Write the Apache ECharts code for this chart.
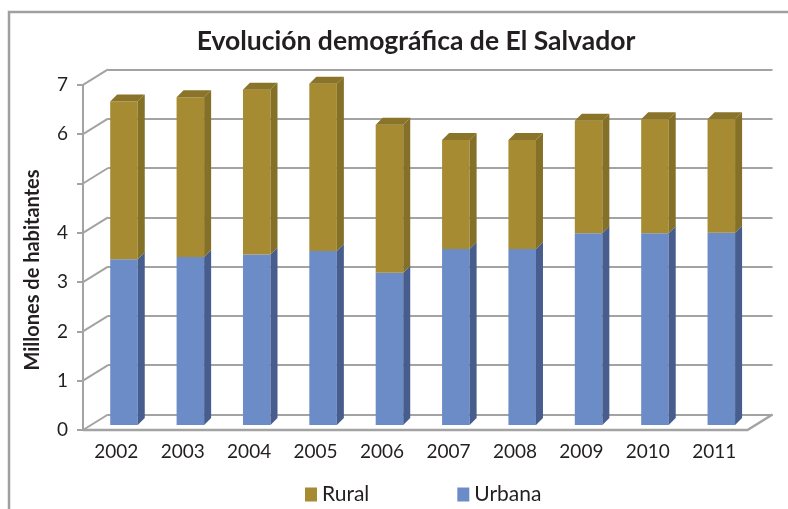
<!DOCTYPE html>
<html>
<head>
<meta charset="utf-8">
<script src="https://cdn.jsdelivr.net/npm/echarts@6/dist/echarts.min.js"></script>
<style>
  html, body { margin: 0; padding: 0; background: #fff; }
  #chart { width: 788px; height: 509px; }
</style>
</head>
<body>
<div id="chart"></div>
<script>
// datos (millones de habitantes)
const years = ['2002', '2003', '2004', '2005', '2006', '2007', '2008', '2009', '2010', '2011'];
const urbana = [3.36, 3.41, 3.46, 3.53, 3.09, 3.57, 3.57, 3.89, 3.89, 3.90];
const rural = [3.20, 3.24, 3.34, 3.39, 3.00, 2.21, 2.21, 2.28, 2.31, 2.30];
const yTicks = [0, 1, 2, 3, 4, 5, 6, 7];

const DX = 25, DY = -15.5;   // profundidad de la pared del fondo
const BX = 7, BY = -7;       // profundidad de cada columna
const textColor = '#231F20';
const lineColor = '#A3A3A3';

const chart = echarts.init(document.getElementById('chart'));

function bar3d(front, side, top, withTop) {
  return function (params, api) {
    const i = api.value(0);
    const base = api.value(1);
    const val = api.value(2);
    const p0 = api.coord([i, base]);
    const p1 = api.coord([i, base + val]);
    const w = api.size([1, 0])[0] * 0.415;
    const x0 = p0[0] - w / 2, x1 = p0[0] + w / 2;
    const children = [
      {
        type: 'rect',
        shape: { x: x0, y: p1[1], width: w, height: p0[1] - p1[1] },
        style: { fill: front }
      },
      {
        type: 'polygon',
        shape: { points: [[x1, p1[1]], [x1 + BX, p1[1] + BY], [x1 + BX, p0[1] + BY], [x1, p0[1]]] },
        style: { fill: side }
      }
    ];
    if (withTop) {
      children.push({
        type: 'polygon',
        shape: { points: [[x0, p1[1]], [x0 + BX, p1[1] + BY], [x1 + BX, p1[1] + BY], [x1, p1[1]]] },
        style: { fill: top }
      });
    }
    return { type: 'group', children: children };
  };
}

const option = {
  animation: false,
  title: {
    text: 'Evolución demográfica de El Salvador',
    left: 411,
    textAlign: 'center',
    top: 23,
    textStyle: { fontFamily: 'Lato', fontWeight: 'bold', fontSize: 26.5, color: textColor }
  },
  legend: {
    data: ['Rural', 'Urbana'],
    left: 300,
    top: 479,
    icon: 'rect',
    itemWidth: 12,
    itemHeight: 14,
    itemGap: 88,
    textStyle: { fontFamily: 'Lato', fontSize: 21, color: textColor, padding: [0, 0, 0, 0] }
  },
  graphic: [
    {
      type: 'rect',
      shape: { x: 9, y: 12, width: 800, height: 520 },
      style: { fill: 'none', stroke: '#A0A0A0', lineWidth: 2.5 },
      silent: true
    },
    {
      type: 'text',
      x: 33,
      y: 270,
      rotation: Math.PI / 2,
      style: {
        text: 'Millones de habitantes',
        fontFamily: 'Lato',
        fontWeight: 'bold',
        fontSize: 20,
        fill: textColor,
        textAlign: 'center',
        textVerticalAlign: 'middle'
      }
    }
  ],
  grid: [
    // pared del fondo
    { left: 108, top: 69.4, width: 664.5, height: 345.1 },
    // plano de las columnas
    { left: 90.8, top: 79.9, width: 663.7, height: 345.1 },
    // plano frontal (ejes)
    { left: 83, top: 84.9, width: 664.5, height: 345.1 }
  ],
  xAxis: [
    { gridIndex: 0, type: 'category', data: years, show: false },
    { gridIndex: 1, type: 'category', data: years, show: false },
    {
      gridIndex: 2,
      type: 'category',
      data: years,
      axisLine: { show: false },
      axisTick: { show: false },
      axisLabel: { margin: 12, fontFamily: 'Lato', fontSize: 19, color: textColor }
    }
  ],
  yAxis: [
    {
      gridIndex: 0, type: 'value', min: 0, max: 7, interval: 1,
      axisLine: { show: false }, axisTick: { show: false }, axisLabel: { show: false },
      splitLine: { show: true, lineStyle: { color: lineColor, width: 2 } }
    },
    {
      gridIndex: 1, type: 'value', min: 0, max: 7, interval: 1,
      show: false
    },
    {
      gridIndex: 2, type: 'value', min: 0, max: 7, interval: 1,
      axisLine: { show: true, lineStyle: { color: lineColor, width: 2 } },
      axisTick: { show: true, length: 6, lineStyle: { color: lineColor, width: 2 } },
      splitLine: { show: false },
      axisLabel: {
        margin: 15,
        fontFamily: 'Lato',
        fontSize: 19,
        color: textColor,
        formatter: v => (v === 5 ? '' : String(v))
      }
    }
  ],
  series: [
    {
      // lineas diagonales hacia la pared del fondo
      type: 'custom',
      name: 'diag',
      xAxisIndex: 2,
      yAxisIndex: 2,
      z: 1,
      silent: true,
      data: yTicks.map(v => [0, v]),
      renderItem: function (params, api) {
        const cs = params.coordSys;
        const y = api.coord([0, api.value(1)])[1];
        return {
          type: 'line',
          shape: { x1: cs.x, y1: y, x2: cs.x + DX, y2: y + DY },
          style: { stroke: lineColor, lineWidth: 2 }
        };
      }
    },
    {
      // piso
      type: 'custom',
      name: 'piso',
      xAxisIndex: 2,
      yAxisIndex: 2,
      z: 1,
      silent: true,
      data: [[0, 0]],
      renderItem: function (params, api) {
        const cs = params.coordSys;
        const y = api.coord([0, 0])[1];
        const xr = cs.x + cs.width;
        return {
          type: 'polyline',
          shape: { points: [[cs.x, y], [xr, y], [xr + DX, y + DY]] },
          style: { stroke: lineColor, lineWidth: 2.5, fill: null }
        };
      }
    },
    {
      name: 'Urbana',
      type: 'custom',
      xAxisIndex: 1,
      yAxisIndex: 1,
      z: 3,
      itemStyle: { color: '#6C8CC7' },
      data: urbana.map((u, i) => [i, 0, u]),
      renderItem: bar3d('#6C8CC7', '#465D8D', '#5B78AE', false)
    },
    {
      name: 'Rural',
      type: 'custom',
      xAxisIndex: 1,
      yAxisIndex: 1,
      z: 3,
      itemStyle: { color: '#A68B32' },
      data: rural.map((r, i) => [i, urbana[i], r]),
      renderItem: bar3d('#A68B32', '#857027', '#8A7429', true)
    }
  ]
};

chart.setOption(option);
</script>
</body>
</html>
